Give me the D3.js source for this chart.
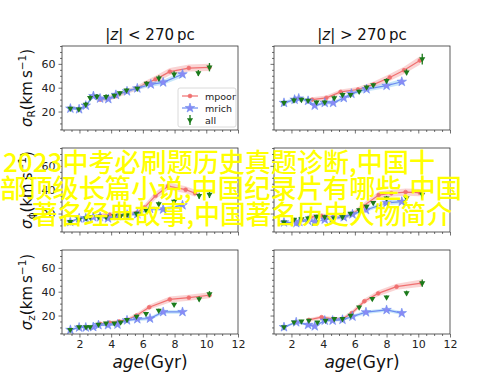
<!DOCTYPE html>
<html>
<head>
<meta charset="utf-8">
<script src="https://cdn.jsdelivr.net/npm/d3@7"></script>
<style>
  body { margin: 0; background: #fff; }
  svg { display: block; }
</style>
</head>
<body>
<div id="chart"></div>
<script>
// each point: [age (Gyr), sigma (km/s), error]
let rInAll = [[1.43,22.5,1.5],[1.96,22,1.5],[2.4,26,2],[2.67,31.6,2],[3.1,32.7,2],[3.68,32.5,2],[4.2,33.5,1.5],[4.55,35.5,1.5],[4.97,37.8,1.5],[5.65,39.3,1.5],[6.24,43.5,2],[7.01,48,2.5],[7.97,51.3,2.5],[9.5,52.3,2.5],[10.2,57.2,3.5]]
let rInPoor = [[3.3,30,2],[3.8,31,2],[4.3,33,2],[5.0,37,2],[5.6,39.5,2],[6.2,43.5,2.5],[6.8,47,3],[7.7,53.5,3],[8.9,56.5,3],[10.2,57,3]]
let rInRich = [[1.43,22.5,1],[1.98,22,1],[2.4,25,1.5],[2.88,33,1.5],[3.3,31,1.5],[3.82,30.5,1.5],[4.3,34,1.5],[5.0,37,1.5],[5.65,39.5,1.5],[6.5,42.8,2],[7.28,44.5,2],[8.5,51.3,2.5]]

let rOutAll = [[1.53,27.3,2],[2.16,29.5,2],[2.63,30,1.5],[3.05,29.2,1.5],[3.58,27.8,1.5],[4.1,27.8,1.5],[4.7,31.4,2],[5.22,34,2],[5.73,34,1.5],[6.27,36.8,1.5],[6.74,40.4,1.5],[7.16,42.3,1.5],[8.0,45.8,2],[9.26,53,2.5],[10.25,64,4.5]]
let rOutPoor = [[3.3,30,2],[4.2,31.5,2],[5.1,36.5,2],[6.2,38.5,2],[7.2,42.8,2.5],[8.2,48.6,3],[9.1,54.6,3],[10.1,62.8,3.5]]
let rOutRich = [[1.53,27.3,1.5],[2.2,30,1.5],[2.46,31,1.5],[3.05,29,1.5],[3.47,25,1.5],[4.1,27.3,1.5],[4.63,27.3,1.5],[5.3,31.4,1.5],[5.78,35,1.5],[6.74,38.8,2],[8.0,41.7,2],[8.96,45,2.5]]

let phiInAll = [[1.42,13,1.5],[1.98,15,1.5],[2.42,16,1.5],[2.67,17,1.5],[3.2,17.5,1.5],[3.68,17,1.5],[4.2,18,1.5],[4.6,18,1.5],[5.0,19,1.5],[5.6,20,1.5],[6.2,23,1.5],[7.0,28,2],[7.97,30,2],[9.55,35,2.5],[10.2,36,3]]
let phiInPoor = [[3.3,18,2],[3.9,19,2],[4.5,19,2],[5.0,19,2],[5.6,20.5,2],[6.1,25,2.5],[6.8,35,3],[7.6,43,3],[8.7,40,3],[9.3,37,3]]
let phiInRich = [[1.42,13,1],[1.98,16,1],[2.4,16,1],[2.87,17,1],[3.3,17,1],[3.8,16,1],[4.4,18,1],[5.0,19,1],[5.65,19.5,1.5],[6.45,24,1.5],[7.28,23.5,1.5],[8.5,27,2]]

let phiOutAll = [[1.53,12.6,1.5],[2.16,15,1.5],[2.63,15.5,1.5],[3.05,16,1.5],[3.58,17.4,1.5],[4.1,17,1.5],[4.7,16,1.5],[5.22,17,1.5],[5.73,20,1.5],[6.27,23,1.5],[6.74,26,1.5],[7.16,29,1.5],[8.0,32.8,2],[9.26,33,2.5],[10.25,36,3.5]]
let phiOutPoor = [[3.2,17,2],[3.9,18,2],[4.7,17,2],[5.3,17,2],[5.9,20,2],[6.5,26,2.5],[7.5,35.5,3],[8.3,37,3],[9.2,38,3],[10.1,37.5,3]]
let phiOutRich = [[1.53,12.6,1],[2.3,12,1],[2.5,13,1],[3.05,14,1],[3.47,13,1],[4.1,15,1],[4.6,16,1],[5.3,17,1.5],[5.85,19.4,1.5],[6.7,23,1.5],[8.0,29,2],[8.96,30,2]]

let zInAll = [[1.42,8.1,1],[1.98,10.3,1],[2.42,10.3,1],[2.67,10.3,1],[3.2,12.5,1],[3.68,13.6,1],[4.2,13.6,1],[4.6,14.4,1],[5.0,16.4,1],[5.6,19.2,1],[6.2,21.4,1],[7.0,24.2,1.5],[7.97,29.2,1.5],[9.55,33.9,2],[10.2,38,2.5]]
let zInPoor = [[3.3,13,1.5],[3.9,14,1.5],[4.5,15,1.5],[5.0,16.5,1.5],[5.6,20,2],[6.4,27,2],[7.7,33.5,2.5],[8.9,35,2.5],[10.2,37,2.5]]
let zInRich = [[1.43,8,1],[1.98,10,1],[2.4,10,1],[2.87,10.4,1],[3.2,12,1],[3.8,12,1],[4.4,12.5,1],[5.0,16,1],[5.65,17,1.5],[6.45,17.5,1.5],[7.28,23,1.5],[8.5,23,1.5]]

let zOutAll = [[1.53,10.3,1],[2.16,14.4,1],[2.63,15.3,1],[3.1,15.8,1],[3.64,14.4,1],[4.15,15.8,1],[4.7,17.2,1],[5.22,17.2,1],[5.73,20,1],[6.27,27,1.5],[7.1,34,1.5],[8.0,35.3,1.5],[9.26,38.9,2],[10.25,47.2,3]]
let zOutPoor = [[3.1,16.3,1.5],[3.9,18.6,1.5],[4.7,17,1.5],[5.2,17,1.5],[5.8,22,2],[6.6,32,2],[7.47,38.6,2.5],[8.63,44.2,2.5],[10.2,47.2,3]]
let zOutRich = [[1.53,10.3,1],[2.3,14.4,1],[3.05,12.2,1],[3.47,11,1],[4.1,15.8,1],[4.6,15.8,1],[5.22,16.5,1],[5.85,19.2,1.5],[6.7,22.8,1.5],[8.0,24.7,1.5],[8.96,22,1.5]]

let xTicks = [2, 4, 6, 8, 10, 12]
let yTicks = [20, 40, 60]
let colTitles = ["<", ">"]
let rowLabels = ["R", "\u03d5", "z"]
let seriesNames = ["mpoor", "mrich", "all"]
let overlayLines = ["2023中考必刷题历史真题诊断,中国十", "部顶级长篇小说,中国纪录片有哪些,中国", "著名经典故事,中国著名历史人物简介"]

let panels = [
  [rInAll, rInPoor, rInRich, rOutAll, rOutPoor, rOutRich],
  [phiInAll, phiInPoor, phiInRich, phiOutAll, phiOutPoor, phiOutRich],
  [zInAll, zInPoor, zInRich, zOutAll, zOutPoor, zOutRich]
]

let width = 500, height = 375
let colX = [62, 274], rowY = [46, 148, 250]
let pw = 176, ph = 84
let poorColor = "#f07070", poorBand = "#f4a0a0"
let richColor = "#6c8cf0", richBand = "#86c8f5"
let allColor = "#1b7a1b"
let font = "DejaVu Sans, sans-serif"

let svg = d3.select("#chart").append("svg")
  .attr("width", width).attr("height", height)

let xScale = d3.scaleLinear().domain([0.9, 12]).range([0, pw])
let yScale = d3.scaleLinear().domain([4.5, 75]).range([ph, 0])

function drawSeries(g, data, lineColor, bandColor, kind) {
  let area = d3.area()
    .x(d => xScale(d[0]))
    .y0(d => yScale(d[1] - d[2]))
    .y1(d => yScale(d[1] + d[2]))
  g.append("path").datum(data).attr("d", area)
    .attr("fill", bandColor).attr("opacity", 0.45)
  let line = d3.line().x(d => xScale(d[0])).y(d => yScale(d[1]))
  g.append("path").datum(data).attr("d", line)
    .attr("fill", "none").attr("stroke", lineColor).attr("stroke-width", 1.2)
  let sym = kind == "star" ? d3.symbol().type(d3.symbolStar).size(28) : d3.symbol().type(d3.symbolCircle).size(12)
  g.selectAll(null).data(data).enter().append("path")
    .attr("d", sym)
    .attr("transform", d => "translate(" + xScale(d[0]) + "," + yScale(d[1]) + ")")
    .attr("fill", kind == "star" ? "#8a8af5" : lineColor)
    .attr("stroke", lineColor).attr("stroke-width", 0.6)
}

function drawAll(g, data) {
  g.selectAll(null).data(data).enter().append("line")
    .attr("x1", d => xScale(d[0])).attr("x2", d => xScale(d[0]))
    .attr("y1", d => yScale(d[1] - d[2])).attr("y2", d => yScale(d[1] + d[2]))
    .attr("stroke", allColor).attr("stroke-width", 1.3)
  g.selectAll(null).data(data).enter().append("path")
    .attr("d", d3.symbol().type(d3.symbolTriangle).size(16))
    .attr("transform", d => "translate(" + xScale(d[0]) + "," + yScale(d[1]) + ") rotate(180)")
    .attr("fill", allColor)
}

for (let r = 0; r < 3; r++) {
  for (let c = 0; c < 2; c++) {
    let g = svg.append("g").attr("transform", "translate(" + colX[c] + "," + rowY[r] + ")")
    let set = panels[r]
    let all = set[c * 3], poor = set[c * 3 + 1], rich = set[c * 3 + 2]

    let clip = "clip" + r + c
    g.append("clipPath").attr("id", clip).append("rect").attr("width", pw).attr("height", ph)
    let plot = g.append("g").attr("clip-path", "url(#" + clip + ")")
    drawSeries(plot, poor, poorColor, poorBand, "circle")
    drawSeries(plot, rich, richColor, richBand, "star")
    drawAll(plot, all)

    // axes
    let xAxis = d3.axisBottom(xScale).tickValues(xTicks).tickSize(3.5).tickPadding(3)
    if (r < 2) xAxis.tickFormat("")
    let xa = g.append("g").attr("transform", "translate(0," + ph + ")").call(xAxis)
    let xMinor = d3.axisBottom(xScale).tickValues(d3.range(1, 12.1, 0.5).filter(v => v % 2 != 0)).tickSize(2).tickFormat("")
    g.append("g").attr("transform", "translate(0," + ph + ")").call(xMinor)

    let yAxis = d3.axisLeft(yScale).tickValues(yTicks).tickSize(3.5).tickPadding(3)
    if (c == 1) yAxis.tickFormat("")
    g.append("g").call(yAxis)
    let yMinor = d3.axisLeft(yScale).tickValues(d3.range(5, 75.1, 5).filter(v => v % 20 != 0)).tickSize(2).tickFormat("")
    g.append("g").call(yMinor)

    g.selectAll(".domain").remove()
    g.selectAll(".tick line").attr("stroke", "#333").attr("stroke-width", 0.7)
    g.selectAll(".tick text").attr("font-family", font).attr("font-size", 11).attr("fill", "#222")

    g.append("rect").attr("width", pw).attr("height", ph)
      .attr("fill", "none").attr("stroke", "#333").attr("stroke-width", 0.8)

    if (r == 0 && c == 0) {
      let lg = g.append("g").attr("transform", "translate(116,42)")
      lg.append("rect").attr("width", 58).attr("height", 39).attr("rx", 2)
        .attr("fill", "#fff").attr("fill-opacity", 0.85).attr("stroke", "#d0d0d0").attr("stroke-width", 0.8)
      seriesNames.forEach(function(name, i) {
        let y = 8 + i * 12
        if (i < 2) {
          let col = i == 0 ? poorColor : richColor
          lg.append("line").attr("x1", 4).attr("x2", 20).attr("y1", y).attr("y2", y)
            .attr("stroke", col).attr("stroke-width", 1.2)
          lg.append("path")
            .attr("d", i == 0 ? d3.symbol().type(d3.symbolCircle).size(12) : d3.symbol().type(d3.symbolStar).size(28))
            .attr("transform", "translate(12," + y + ")")
            .attr("fill", i == 0 ? col : "#8a8af5").attr("stroke", col).attr("stroke-width", 0.6)
        } else {
          lg.append("line").attr("x1", 12).attr("x2", 12).attr("y1", y - 5).attr("y2", y + 5)
            .attr("stroke", allColor).attr("stroke-width", 1.3)
          lg.append("path").attr("d", d3.symbol().type(d3.symbolTriangle).size(16))
            .attr("transform", "translate(12," + y + ") rotate(180)").attr("fill", allColor)
        }
        lg.append("text").attr("x", 27).attr("y", y + 3.5).text(name)
          .attr("font-family", font).attr("font-size", 9.5).attr("fill", "#222")
      })
    }
  }
}

// column titles
colTitles.forEach(function(sign, c) {
  let t = svg.append("text").attr("x", colX[c] + pw / 2).attr("y", 40)
    .attr("text-anchor", "middle").attr("font-family", font).attr("font-size", 15).attr("fill", "#111")
  t.append("tspan").text("|")
  t.append("tspan").attr("font-style", "italic").text("z")
  t.append("tspan").text("| " + sign + " 270\u2009pc")
})

// row labels
rowLabels.forEach(function(sub, r) {
  let t = svg.append("text")
    .attr("transform", "translate(32," + (rowY[r] + ph / 2) + ") rotate(-90)")
    .attr("text-anchor", "middle").attr("font-family", font).attr("font-size", 15).attr("fill", "#111")
  t.append("tspan").attr("font-style", "italic").text("\u03c3")
  t.append("tspan").attr("font-size", 10.5).attr("dy", 3).text(sub)
  t.append("tspan").attr("dy", -3).text("(km\u2009s")
  t.append("tspan").attr("font-size", 10.5).attr("dy", -6).text("\u22121")
  t.append("tspan").attr("dy", 6).text(")")
})

// x labels
colX.forEach(function(x0) {
  let t = svg.append("text").attr("x", x0 + pw / 2).attr("y", 368)
    .attr("text-anchor", "middle").attr("font-family", font).attr("font-size", 17).attr("fill", "#111")
  t.append("tspan").attr("font-style", "italic").text("age")
  t.append("tspan").text("(Gyr)")
})

// overlay text
let ovX = [3, 0, 32], ovY = [172, 198, 224], ovW = [432, 462, 420]
overlayLines.forEach(function(s, i) {
  svg.append("text").attr("x", ovX[i]).attr("y", ovY[i])
    .attr("textLength", ovW[i]).attr("lengthAdjust", "spacingAndGlyphs")
    .attr("font-family", "Noto Sans CJK SC, sans-serif").attr("font-size", 26).attr("font-weight", 500)
    .attr("fill", "#ffff00").text(s)
})
</script>
</body>
</html>
